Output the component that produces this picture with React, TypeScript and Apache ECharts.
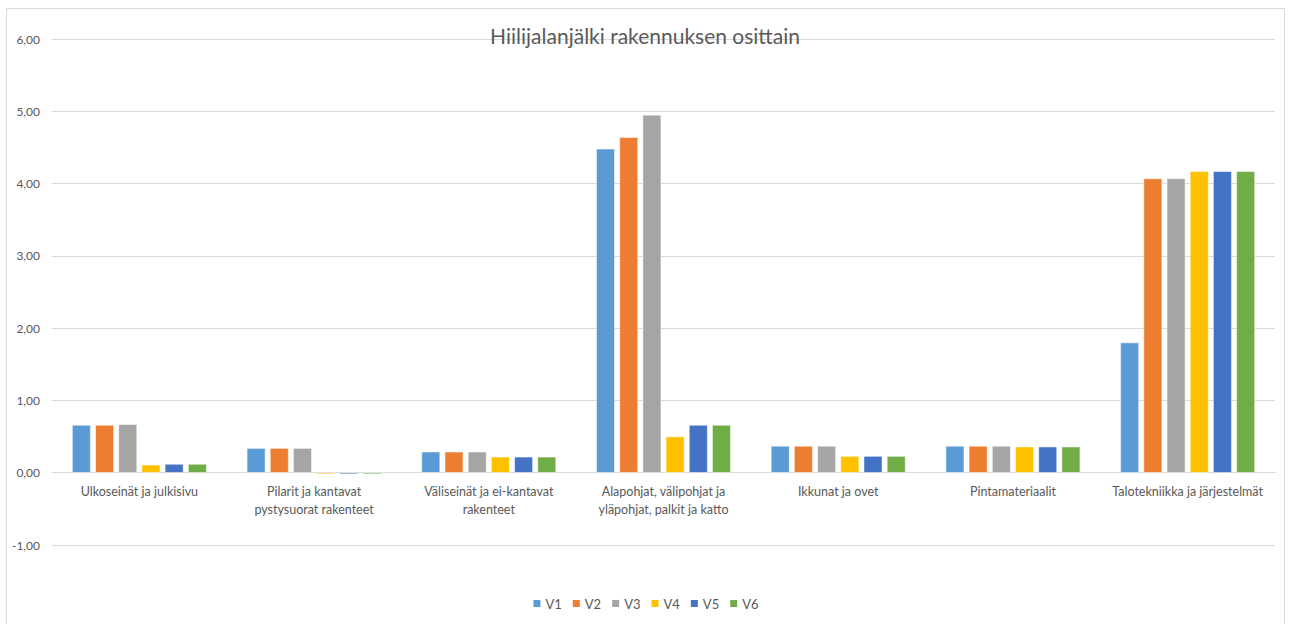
import React, { useEffect, useRef } from "react";
import * as echarts from "echarts";

const title = "Hiilijalanjälki rakennuksen osittain";
const categories = [
  "Ulkoseinät ja julkisivu",
  "Pilarit ja kantavat\npystysuorat rakenteet",
  "Väliseinät ja ei-kantavat\nrakenteet",
  "Alapohjat, välipohjat ja\nyläpohjat, palkit ja katto",
  "Ikkunat ja ovet",
  "Pintamateriaalit",
  "Talotekniikka ja järjestelmät",
];
const seriesNames = ["V1", "V2", "V3", "V4", "V5", "V6"];
const V1 = [0.66, 0.34, 0.29, 4.48, 0.37, 0.37, 1.8];
const V2 = [0.66, 0.34, 0.29, 4.64, 0.37, 0.37, 4.07];
const V3 = [0.67, 0.34, 0.29, 4.95, 0.37, 0.37, 4.07];
const V4 = [0.11, -0.02, 0.22, 0.5, 0.23, 0.36, 4.17];
const V5 = [0.12, -0.02, 0.22, 0.66, 0.23, 0.36, 4.17];
const V6 = [0.12, -0.02, 0.22, 0.66, 0.23, 0.36, 4.17];
const seriesValues = [V1, V2, V3, V4, V5, V6];
const colors = ["#5B9BD5", "#ED7D31", "#A5A5A5", "#FFC000", "#4472C4", "#70AD47"];
const yMin = -1;
const yMax = 6;
const yInterval = 1;

const FONT = "Lato, 'Open Sans', sans-serif";

const GRID_TOP = 39;
const GRID_BOTTOM = 79;
const CHART_H = 624;

export default function App() {
  const ref = useRef<HTMLDivElement>(null);
  useEffect(() => {
    if (!ref.current) return;
    const chart = echarts.init(ref.current, undefined, { renderer: "svg" });
    const plotH = CHART_H - GRID_TOP - GRID_BOTTOM;
    const zeroOffset = -(plotH * (0 - yMin)) / (yMax - yMin);
    chart.setOption({
      animation: false,
      color: colors,
      textStyle: { fontFamily: FONT },
      title: {
        text: title,
        left: "center",
        top: 20,
        textStyle: { fontSize: 21, fontWeight: "normal", color: "#595959", fontFamily: FONT },
      },
      graphic: [
        {
          type: "rect",
          shape: { x: 6.5, y: 8.5, width: 1278, height: 700 },
          style: { fill: "none", stroke: "#d9d9d9", lineWidth: 1 },
          silent: true,
        },
      ],
      legend: {
        data: seriesNames,
        bottom: 9,
        left: "center",
        itemWidth: 9,
        itemHeight: 9,
        itemGap: 9,
        icon: "rect",
        textStyle: { fontSize: 13, color: "#595959", fontFamily: FONT, padding: [0, 0, 0, -1] },
      },
      grid: { left: 52, right: 15, top: GRID_TOP, bottom: GRID_BOTTOM, containLabel: false },
      xAxis: {
        type: "category",
        data: categories,
        offset: zeroOffset,
        axisLine: { onZero: false, lineStyle: { color: "#d9d9d9", width: 1 } },
        axisTick: { show: false },
        axisLabel: {
          color: "#595959",
          fontSize: 12.5,
          lineHeight: 18,
          margin: 10,
          interval: 0,
          fontFamily: FONT,
        },
      },
      yAxis: {
        type: "value",
        min: yMin,
        max: yMax,
        interval: yInterval,
        axisLine: { show: false },
        axisTick: { show: false },
        splitLine: { lineStyle: { color: "#d9d9d9", width: 1 } },
        axisLabel: {
          color: "#595959",
          fontSize: 12,
          margin: 12,
          fontFamily: FONT,
          formatter: (v: number) => v.toFixed(2).replace(".", ","),
        },
      },
      series: seriesNames.map((name, i) => ({
        name,
        type: "bar",
        data: seriesValues[i],
        barGap: "25%",
        barCategoryGap: "23%",
        itemStyle: { color: colors[i], borderColor: "#ffffff", borderWidth: 0.5 },
      })),
    });
    return () => chart.dispose();
  }, []);
  return (
    <div
      ref={ref}
      style={{ position: "absolute", left: 0, top: 0, width: 1290, height: 624, background: "#fff" }}
    />
  );
}
